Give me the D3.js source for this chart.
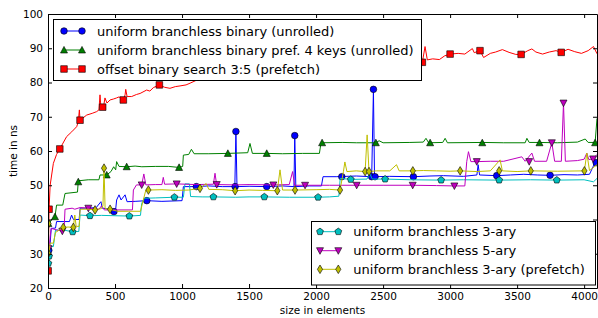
<!DOCTYPE html>
<html>
<head>
<meta charset="utf-8">
<script src="https://cdn.jsdelivr.net/npm/d3@7"></script>
<style>
  body { margin: 0; background: #fff; }
  svg { display: block; }
</style>
</head>
<body>
<svg id="chart" width="598" height="318"></svg>
<script>
// values: [size in elements, time in ns]
var blueLine = [[1,30],[8,31],[16,33],[24,37.4],[56,37.5],[64,39.4],[160,39.4],[176,41.3],[190,40],[232,40],[240,43.3],[300,43.3],[360,43.5],[395,45.2],[405,43.3],[470,43],[492,42.3],[505,43],[512,45.7],[530,47.2],[545,45.7],[575,47.2],[590,45.2],[650,45.3],[737,45.5],[850,45.3],[1000,45.5],[1010,49.6],[1100,49.6],[1200,49.8],[1300,49.6],[1394,49.6],[1402,65.7],[1410,49.6],[1500,49.7],[1632,49.6],[1750,49.8],[1835,49.6],[1841,64.5],[1849,49.6],[1950,49.8],[2040,49.8],[2052,52.5],[2150,52.5],[2300,52.7],[2415,52.5],[2428,78],[2436,52.5],[2550,52.6],[2726,52.5],[2850,52.7],[2950,52.8],[3100,52.6],[3200,53],[3209,56],[3220,53],[3348,52.8],[3450,53],[3550,53.2],[3650,53],[3746,52.9],[3850,53.1],[3950,53],[4040,53.2],[4080,56.5],[4096,57]];
var blueMarks = [[6,31],[492,42.3],[737,45.5],[1107,49.6],[1396,49.6],[1402,65.7],[1632,49.6],[1841,64.5],[2192,52.5],[2415,52.5],[2428,78],[2440,52.5],[2726,52.5],[3348,52.8],[3746,52.9],[4090,56.6]];

var greenLine = [[1,37],[8,38.5],[24,39.9],[52,40.8],[64,44.2],[110,44.2],[127,47.6],[220,48],[226,51.3],[300,51.6],[380,51.6],[388,53],[438,53],[470,54],[490,55.4],[505,54.5],[512,56.9],[530,55.5],[587,55.4],[650,55.6],[700,55.4],[800,55.5],[900,55.5],[978,55.2],[1005,55.5],[1010,58.8],[1050,59],[1070,60.5],[1090,59.2],[1200,59.2],[1342,59.3],[1490,59.5],[1507,62.2],[1525,59.3],[1632,59.3],[1750,59.2],[1900,59.3],[2025,59.3],[2037,62.4],[2200,62.5],[2300,62.4],[2448,62.4],[2470,63],[2500,62.4],[2700,62.5],[2800,62.6],[2820,63.7],[2840,62.4],[2945,62.5],[2963,63.7],[2980,62.4],[3246,62.5],[3400,62.4],[3560,62.4],[3573,63.7],[3590,62.5],[3664,62.5],[3800,62.4],[3950,62.6],[4008,63.5],[4030,62.5],[4082,62.5],[4096,69.5]];
var greenMarks = [[3,38.8],[52,40.8],[226,51],[438,53],[587,55.4],[978,55.2],[1342,59.3],[1632,59.3],[2045,62.4],[2446,62.4],[2851,62.4],[3240,62.4],[3667,62.4],[4082,62.4]];

var redLine = [[1,25],[8,43],[16,50],[40,56.4],[64,59],[88,60.6],[139,64.2],[177,65.6],[214,67.1],[226,68.5],[234,72],[239,69],[289,70.5],[330,71],[363,71.5],[380,72],[388,76.4],[396,72.2],[408,72.8],[418,73.8],[425,75.5],[440,74],[463,74.9],[490,75.2],[512,75.5],[530,75.8],[562,74.9],[575,76.4],[580,78],[590,75.9],[624,75.9],[660,76.5],[687,76.8],[736,77.8],[760,77.5],[786,78.5],[831,79.3],[870,78.6],[910,78.3],[950,78.8],[985,79],[1030,79.3],[1060,79.8],[1110,80.7],[1300,81.5],[1700,83],[2200,84.5],[2600,86],[2781,86.6],[2793,85.9],[2813,90.5],[2830,86.6],[2870,86.9],[2920,86.7],[2960,87.8],[3000,88.3],[3060,88.5],[3110,88.3],[3166,89.9],[3180,88.7],[3223,89.3],[3250,87.3],[3300,88.5],[3340,88.9],[3390,89.6],[3440,88.8],[3490,88.2],[3530,88.2],[3580,89.3],[3610,89.8],[3640,88.9],[3690,88.3],[3740,88.9],[3790,89.3],[3829,88.8],[3880,89.7],[3930,89],[3980,88.5],[4030,89.3],[4070,90.5],[4096,88.4]];
var redMarks = [[1,25],[8,43],[88,60.6],[239,69],[408,72.8],[562,74.9],[831,79.3],[2793,85.9],[3000,88.3],[3223,89.3],[3530,88.2],[3829,88.8]];

var cyanLine = [[1,26.5],[8,27.5],[16,32.1],[40,32.1],[56,36.9],[120,36.9],[184,36.4],[230,36.5],[239,41.3],[313,41.1],[400,41.2],[500,41.1],[607,41],[690,41.2],[699,44.7],[720,46.2],[800,46.3],[943,46.5],[1010,46.5],[1022,50.4],[1055,50.4],[1064,46.7],[1150,46.6],[1234,46.6],[1400,46.5],[1500,46.6],[1614,46.6],[1800,46.5],[2013,46.5],[2100,46.6],[2170,46.8],[2180,52],[2259,51.7],[2380,51.8],[2400,53.5],[2420,51.8],[2515,51.8],[2700,51.6],[2933,51.5],[3100,51.6],[3366,51.5],[3600,51.6],[3796,51.5],[4000,51.6],[4070,51],[4096,52]];
var cyanMarks = [[3,27.2],[8,29.3],[184,36.4],[313,41.1],[607,41],[943,46.5],[1234,46.6],[1614,46.6],[2015,46.5],[2259,51.7],[2515,51.8],[2933,51.5],[3366,51.5],[3796,51.5]];

var magentaLine = [[1,30],[8,31],[16,35],[24,37.4],[60,37],[107,36.6],[120,37],[127,43],[180,43.3],[200,43],[240,43.5],[301,43.3],[380,43],[400,44],[420,42.8],[500,42.8],[630,42.8],[637,48.6],[660,50.1],[699,50.1],[715,53.3],[730,50.1],[800,50.2],[850,50.2],[860,52.3],[870,50.3],[960,50.4],[1100,50.2],[1234,50.3],[1246,53.5],[1258,50.2],[1400,50.1],[1500,50.2],[1681,50.1],[1800,50.2],[1825,54],[1840,50],[1918,50],[2100,50],[2303,50],[2500,50],[2721,50],[2900,49.9],[3032,49.8],[3110,49.8],[3124,56.9],[3137,59.8],[3155,56.9],[3199,56.9],[3300,57],[3400,57],[3535,58.3],[3560,57],[3610,59.4],[3630,57],[3720,57],[3759,62.4],[3780,57],[3830,57],[3846,74],[3860,57],[3950,57.2],[4000,57.6],[4020,59.4],[4035,57.5],[4067,57.7],[4096,59]];
var magentaMarks = [[5,31.5],[107,36.6],[301,43.3],[699,50.1],[960,50.4],[1259,50.2],[1681,50.1],[1918,50],[2303,50],[2721,50],[3032,49.8],[3199,56.9],[3590,56.9],[3759,62.4],[3846,74],[4067,57.7]];

var yellowLine = [[1,30.1],[8,30.5],[16,33.1],[40,33.1],[56,36.2],[114,37.7],[150,37.8],[189,37.7],[200,41.3],[210,38],[232,38],[240,43],[300,43],[351,42.8],[400,43.2],[410,44],[418,55],[426,43.2],[463,43],[520,42.4],[600,42.4],[690,42.4],[711,45.7],[730,48.6],[749,48.6],[850,48.7],[950,48.5],[1050,48.6],[1134,49.1],[1180,50.5],[1200,48.8],[1300,48.7],[1396,48.4],[1500,48.6],[1600,48.5],[1711,48.4],[1731,54.5],[1750,48.6],[1843,48.6],[2000,48.7],[2100,48.8],[2179,48.6],[2204,54],[2215,56.8],[2230,54],[2300,54.2],[2366,54],[2381,64.7],[2395,54],[2450,54.2],[2550,54.2],[2600,56],[2620,54.2],[2722,54.2],[2800,54.3],[2900,54.2],[3000,54.1],[3075,54.2],[3200,54],[3300,54.2],[3373,57.4],[3390,54.2],[3500,54],[3602,54.2],[3800,54.1],[4002,54.2],[4020,59.4],[4040,54.3],[4096,56]];
var yellowMarks = [[2,30.1],[4,38.8],[114,37.7],[189,37.7],[351,42.8],[418,55],[463,43],[749,48.6],[1134,49.1],[1396,48.4],[1711,48.4],[1843,48.6],[2179,48.6],[2366,54],[2395,54],[2722,54.2],[3075,54.2],[3366,54.2],[3602,54.2],[4002,54.2]];

var xTicks = [0, 500, 1000, 1500, 2000, 2500, 3000, 3500, 4000];
var yTicks = [20, 30, 40, 50, 60, 70, 80, 90, 100];

var series = [
  {name: "uniform branchless binary (unrolled)", line: blueLine, marks: blueMarks, color: "#0000ff", shape: "o"},
  {name: "uniform branchless binary pref. 4 keys (unrolled)", line: greenLine, marks: greenMarks, color: "#008000", shape: "^"},
  {name: "offset binary search 3:5 (prefetch)", line: redLine, marks: redMarks, color: "#ff0000", shape: "s"},
  {name: "uniform branchless 3-ary", line: cyanLine, marks: cyanMarks, color: "#00bfbf", shape: "p"},
  {name: "uniform branchless 5-ary", line: magentaLine, marks: magentaMarks, color: "#bf00bf", shape: "v"},
  {name: "uniform branchless 3-ary (prefetch)", line: yellowLine, marks: yellowMarks, color: "#bfbf00", shape: "d"}
];

var padL = 48, padR = 597, padT = 14, padB = 288;
var font = "DejaVu Sans, sans-serif";

var svg = d3.select("#chart");

var x = d3.scaleLinear().domain([0, 4096]).range([padL, padR]);
var y = d3.scaleLinear().domain([20, 100]).range([padB, padT]);

// marker outline for each matplotlib style
function markerPath(shape) {
  if (shape == "o") return "M3.3,0A3.3,3.3 0 1,1 -3.3,0A3.3,3.3 0 1,1 3.3,0Z";
  if (shape == "s") return "M-3.3,-3.3H3.3V3.3H-3.3Z";
  if (shape == "^") return "M0,-3.6L3.5,3L-3.5,3Z";
  if (shape == "v") return "M0,3.6L3.5,-3L-3.5,-3Z";
  if (shape == "d") return "M0,-4.3L2.6,0L0,4.3L-2.6,0Z";
  if (shape == "p") {
    var pts = d3.range(5).map(function(i) {
      var a = -Math.PI / 2 + i * 2 * Math.PI / 5;
      return (3.6 * Math.cos(a)).toFixed(2) + "," + (3.6 * Math.sin(a)).toFixed(2);
    });
    return "M" + pts.join("L") + "Z";
  }
}

svg.append("defs").append("clipPath").attr("id", "plotclip")
  .append("rect")
    .attr("x", padL).attr("y", padT)
    .attr("width", padR - padL).attr("height", padB - padT);

var plot = svg.append("g").attr("clip-path", "url(#plotclip)");

var line = d3.line()
  .x(function(d) { return x(d[0]); })
  .y(function(d) { return y(d[1]); });

series.forEach(function(s) {
  plot.append("path")
    .datum(s.line)
    .attr("d", line)
    .attr("fill", "none")
    .attr("stroke", s.color)
    .attr("stroke-width", 1);

  plot.selectAll(null).data(s.marks).enter()
    .append("path")
    .attr("d", markerPath(s.shape))
    .attr("transform", function(d) { return "translate(" + x(d[0]) + "," + y(d[1]) + ")"; })
    .attr("fill", s.color)
    .attr("stroke", "#000")
    .attr("stroke-width", 0.6);
});

// axes: ticks point inwards on all four sides
svg.append("g")
  .attr("transform", "translate(0," + padB + ")")
  .call(d3.axisBottom(x).tickValues(xTicks).tickFormat(d3.format("d")).tickSizeInner(-4).tickSizeOuter(0).tickPadding(5));
svg.append("g")
  .attr("transform", "translate(" + padL + ",0)")
  .call(d3.axisLeft(y).tickValues(yTicks).tickFormat(d3.format("d")).tickSizeInner(-4).tickSizeOuter(0).tickPadding(5));
svg.append("g")
  .attr("transform", "translate(0," + padT + ")")
  .call(d3.axisTop(x).tickValues(xTicks).tickSizeInner(-4).tickSizeOuter(0).tickFormat(""));
svg.append("g")
  .attr("transform", "translate(" + padR + ",0)")
  .call(d3.axisRight(y).tickValues(yTicks).tickSizeInner(-4).tickSizeOuter(0).tickFormat(""));

svg.selectAll(".tick text")
  .attr("font-family", font)
  .attr("font-size", 10.5)
  .attr("fill", "#000");
svg.selectAll(".domain").attr("stroke", "#000");
svg.selectAll(".tick line").attr("stroke", "#000");

svg.append("text")
  .attr("x", (padL + padR) / 2)
  .attr("y", 314)
  .attr("text-anchor", "middle")
  .attr("font-family", font)
  .attr("font-size", 10.5)
  .text("size in elements");

svg.append("text")
  .attr("transform", "translate(16.5," + (padT + padB) / 2 + ") rotate(-90)")
  .attr("text-anchor", "middle")
  .attr("font-family", font)
  .attr("font-size", 10.5)
  .text("time in ns");

// legends
function legend(items, bx, by, bw, bh, rowY, mx1, mx2, tx) {
  var g = svg.append("g");
  g.append("rect")
    .attr("x", bx).attr("y", by).attr("width", bw).attr("height", bh)
    .attr("fill", "#fff").attr("stroke", "#000").attr("stroke-width", 1);
  items.forEach(function(s, i) {
    var cy = rowY[i];
    g.append("line")
      .attr("x1", mx1).attr("x2", mx2).attr("y1", cy).attr("y2", cy)
      .attr("stroke", s.color).attr("stroke-width", 1);
    [mx1, mx2].forEach(function(mx) {
      g.append("path")
        .attr("d", markerPath(s.shape))
        .attr("transform", "translate(" + mx + "," + cy + ")")
        .attr("fill", s.color).attr("stroke", "#000").attr("stroke-width", 0.6);
    });
    g.append("text")
      .attr("x", tx).attr("y", cy).attr("dy", "0.36em")
      .attr("font-family", font).attr("font-size", 13)
      .text(s.name);
  });
}

legend(series.slice(0, 3), 53.5, 19.5, 368, 61, [31, 50, 69], 64, 82, 97);
legend(series.slice(3), 311.5, 221.5, 284, 63.5, [231.7, 250.7, 269.3], 320, 338.3, 353.3);
</script>
</body>
</html>
